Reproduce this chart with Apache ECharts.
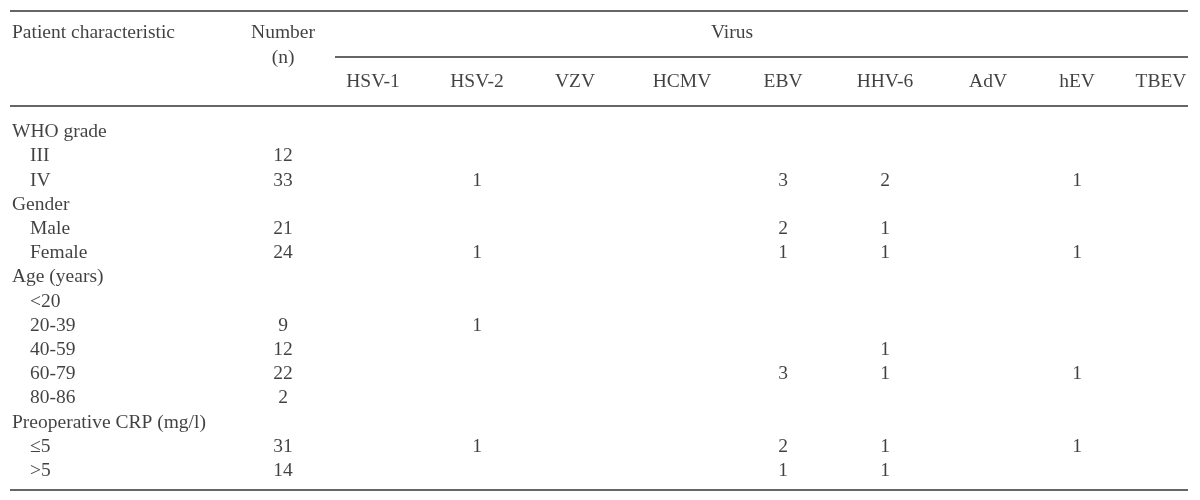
<!DOCTYPE html>
<html>
<head>
<meta charset="utf-8">
<script src="https://cdn.jsdelivr.net/npm/echarts@6/dist/echarts.min.js"></script>
<style>html,body{margin:0;padding:0;background:#fff}#c{width:1200px;height:500px}</style>
</head>
<body>
<div id="c"></div>
<script>
// ---- data ----
var rowLabels = ['WHO grade','III','IV','Gender','Male','Female','Age (years)','<20','20-39','40-59','60-79','80-86','Preoperative CRP (mg/l)','\u22645','>5'];
var isGroup   = [true,false,false,true,false,false,true,false,false,false,false,false,true,false,false];
var numbers   = [null,12,33,null,21,24,null,null,9,12,22,2,null,31,14];
var viruses   = ['HSV-1','HSV-2','VZV','HCMV','EBV','HHV-6','AdV','hEV','TBEV'];
var hsv1 = [null,null,null,null,null,null,null,null,null,null,null,null,null,null,null];
var hsv2 = [null,null,1,null,null,1,null,null,1,null,null,null,null,1,null];
var vzv  = [null,null,null,null,null,null,null,null,null,null,null,null,null,null,null];
var hcmv = [null,null,null,null,null,null,null,null,null,null,null,null,null,null,null];
var ebv  = [null,null,3,null,2,1,null,null,null,null,3,null,null,2,1];
var hhv6 = [null,null,2,null,1,1,null,null,null,1,1,null,null,1,1];
var adv  = [null,null,null,null,null,null,null,null,null,null,null,null,null,null,null];
var hev  = [null,null,1,null,null,1,null,null,null,null,1,null,null,1,null];
var tbev = [null,null,null,null,null,null,null,null,null,null,null,null,null,null,null];
var virusCounts = [hsv1,hsv2,vzv,hcmv,ebv,hhv6,adv,hev,tbev];
var headerTexts = {title:'Patient characteristic', number:'Number', numberSub:'(n)', group:'Virus'};

// ---- layout (pixel positions of column anchors) ----
var colGroupX = 12, colIndentX = 30, colNumberX = 283, colVirusGroupX = 732;
var colVirusX = [373,477,575,682,783,885,988,1077,1161];
var FONT = 'Liberation Serif', FS = 19.5, TXT = '#111', RULE = '#333';

var series = [];
function textSeries(gridIdx, data, align){
  return {
    type:'scatter', xAxisIndex:gridIdx, yAxisIndex:gridIdx, symbolSize:0, silent:true,
    data:data,
    label:{show:true, position:'inside', align:align||'center', verticalAlign:'middle',
      fontFamily:FONT, fontSize:FS, color:TXT, formatter:function(p){return p.value[2];}}
  };
}
// body: first column
series.push(textSeries(0, rowLabels.map(function(r,i){return [isGroup[i]?colGroupX:colIndentX, i, r];}), 'left'));
// body: number column
series.push(textSeries(0, numbers.map(function(v,i){return v==null?null:[colNumberX,i,String(v)];}).filter(Boolean)));
// body: virus columns
virusCounts.forEach(function(arr,k){
  series.push(textSeries(0, arr.map(function(v,i){return v==null?null:[colVirusX[k],i,String(v)];}).filter(Boolean)));
});
// header
series.push(textSeries(1, [[colGroupX,0,headerTexts.title]], 'left'));
series.push(textSeries(1, [[colNumberX,0,headerTexts.number],[colNumberX,1,headerTexts.numberSub],[colVirusGroupX,0,headerTexts.group]]));
series.push(textSeries(1, viruses.map(function(v,k){return [colVirusX[k],2,v];})));

var option = {
  animation:false,
  backgroundColor:'#fff',
  grid:[
    {left:0, width:1200, top:120, height:363},
    {left:0, width:1200, top:21, height:73}
  ],
  xAxis:[
    {type:'value', min:0, max:1200, gridIndex:0, show:false},
    {type:'value', min:0, max:1200, gridIndex:1, show:false}
  ],
  yAxis:[
    {type:'category', inverse:true, gridIndex:0, data:rowLabels.map(function(_,i){return i;}), show:false},
    {type:'category', inverse:true, gridIndex:1, data:[0,1,2], show:false}
  ],
  series:series,
  graphic:[
    {type:'line', shape:{x1:10,y1:11,x2:1188,y2:11}, style:{stroke:RULE, lineWidth:1.5}},
    {type:'line', shape:{x1:335,y1:57,x2:1188,y2:57}, style:{stroke:RULE, lineWidth:1.3}},
    {type:'line', shape:{x1:10,y1:106,x2:1188,y2:106}, style:{stroke:RULE, lineWidth:1.5}},
    {type:'line', shape:{x1:10,y1:490,x2:1188,y2:490}, style:{stroke:RULE, lineWidth:1.5}}
  ]
};
var chart = echarts.init(document.getElementById('c'), null, {renderer:'canvas'});
chart.setOption(option);
</script>
</body>
</html>
